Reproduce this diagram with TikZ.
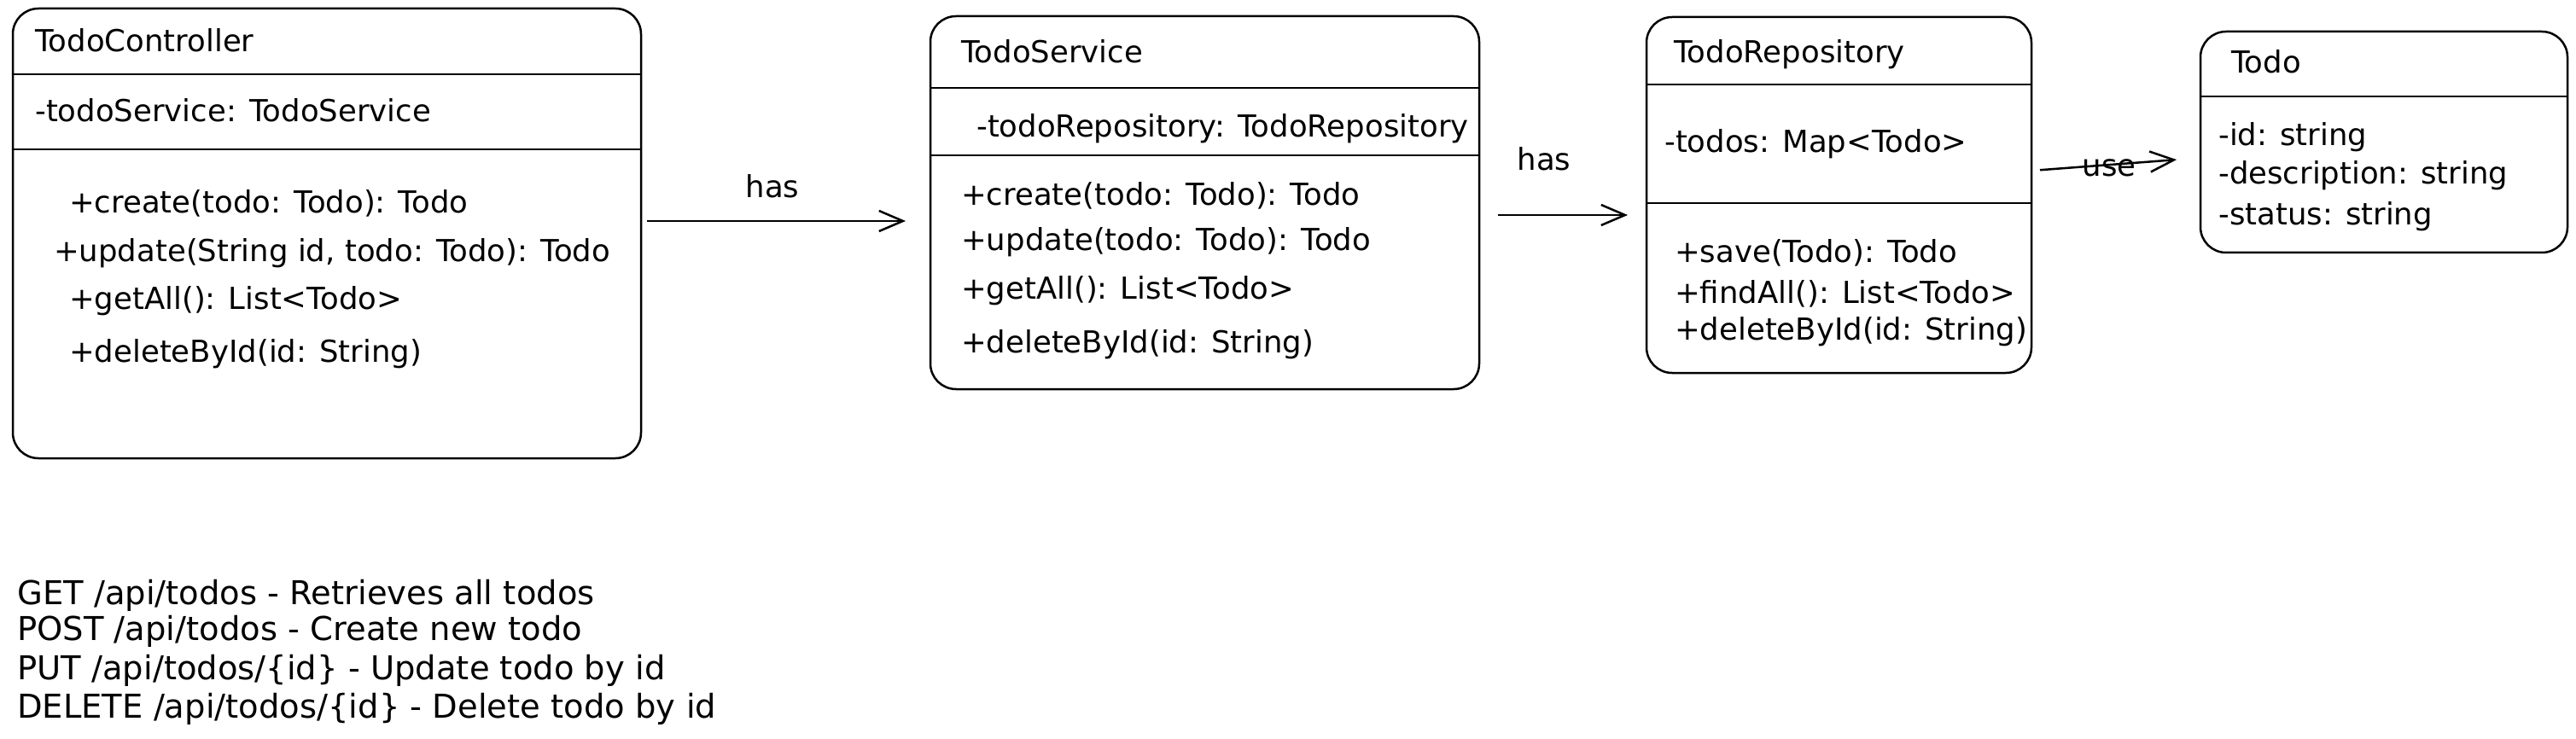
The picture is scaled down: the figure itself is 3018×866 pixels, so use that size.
\documentclass[tikz,border=0pt]{standalone}
\usepackage{fontspec}
\setmainfont{DejaVu Sans}
\usetikzlibrary{arrows.meta}
\begin{document}
\begin{tikzpicture}[x=1pt,y=-1pt,
  cls/.style={draw, line width=2.5pt, rounded corners=30pt, anchor=north west, inner sep=0pt, outer sep=0pt},
  sep/.style={line width=2.5pt},
  txt/.style={anchor=west, inner sep=0pt, yshift=-7pt, font=\fontsize{35.5}{42}\selectfont, text height=0.73em, text depth=0pt},
  lbl/.style={inner sep=0pt, yshift=-8pt, font=\fontsize{35.5}{42}\selectfont, text height=0.73em, text depth=0pt},
  assoc/.style={line width=2.5pt, -{Straight Barb[length=28pt,width=24pt,line width=2.5pt]}},
  api/.style={anchor=west, inner sep=0pt, yshift=-5pt, font=\fontsize{38.5}{45}\selectfont, text height=0.73em, text depth=0pt}
]
\useasboundingbox[fill=white] (0,0) rectangle (3018,866);

% TodoController
\node[cls, minimum width=736pt, minimum height=527pt] (ctl) at (15,10) {};
\draw[sep] (ctl.north west) ++(0,77) -- ++(736,0);
\draw[sep] (ctl.north west) ++(0,165) -- ++(736,0);
\node[txt] (ctlname) at (41,50) {TodoController};
\node[txt] (ctla1) at (41,132) {-todoService: TodoService};
\node[txt] (ctlm1) at (81,239) {+create(todo: Todo): Todo};
\node[txt] (ctlm2) at (63,296) {+update(String id, todo: Todo): Todo};
\node[txt] (ctlm3) at (81,352) {+getAll(): List<Todo>};
\node[txt] (ctlm4) at (81,414) {+deleteById(id: String)};

% TodoService
\node[cls, minimum width=643pt, minimum height=437pt] (svc) at (1090,19) {};
\draw[sep] (svc.north west) ++(0,84) -- ++(643,0);
\draw[sep] (svc.north west) ++(0,163) -- ++(643,0);
\node[txt] (svcname) at (1126,63) {TodoService};
\node[txt] (svca1) at (1144,150) {-todoRepository: TodoRepository};
\node[txt] (svcm1) at (1126,230) {+create(todo: Todo): Todo};
\node[txt] (svcm2) at (1126,283) {+update(todo: Todo): Todo};
\node[txt] (svcm3) at (1126,340) {+getAll(): List<Todo>};
\node[txt] (svcm4) at (1126,403) {+deleteById(id: String)};

% TodoRepository
\node[cls, minimum width=451pt, minimum height=417pt] (repo) at (1929,20) {};
\draw[sep] (repo.north west) ++(0,79) -- ++(451,0);
\draw[sep] (repo.north west) ++(0,218) -- ++(451,0);
\node[txt] (reponame) at (1961,63) {TodoRepository};
\node[txt] (repoa1) at (1950,168) {-todos: Map<Todo>};
\node[txt] (repom1) at (1962,297) {+save(Todo): Todo};
\node[txt] (repom2) at (1962,345) {+findAll(): List<Todo>};
\node[txt] (repom3) at (1962,388) {+deleteById(id: String)};

% Todo
\node[cls, minimum width=430pt, minimum height=259pt] (todo) at (2578,37) {};
\draw[sep] (todo.north west) ++(0,76) -- ++(430,0);
\node[txt] (todoname) at (2614,75) {Todo};
\node[txt] (todoa1) at (2599,160) {-id: string};
\node[txt] (todoa2) at (2599,205) {-description: string};
\node[txt] (todoa3) at (2599,253) {-status: string};

% connectors
\draw[assoc, shorten <=7pt, shorten >=29pt] (ctl.east |- 0,259) -- (svc.west |- 0,259);
\node[lbl] (has1) at (905,220) {has};
\draw[assoc, shorten <=22pt, shorten >=22pt] (svc.east |- 0,252) -- (repo.west |- 0,252);
\node[lbl] (has2) at (1809,188) {has};
\draw[assoc, shorten <=10pt, shorten >=28pt] (repo.east |- 0,200) -- (todo.west |- 0,185);
\node[lbl] (use) at (2471,195) {use};

% API list
\node[api] (api1) at (20,700) {GET /api/todos - Retrieves all todos};
\node[api] (api2) at (20,742) {POST /api/todos - Create new todo};
\node[api] (api3) at (20,788) {PUT /api/todos/\{id\} - Update todo by id};
\node[api] (api4) at (20,833) {DELETE /api/todos/\{id\} - Delete todo by id};
\end{tikzpicture}
\end{document}
